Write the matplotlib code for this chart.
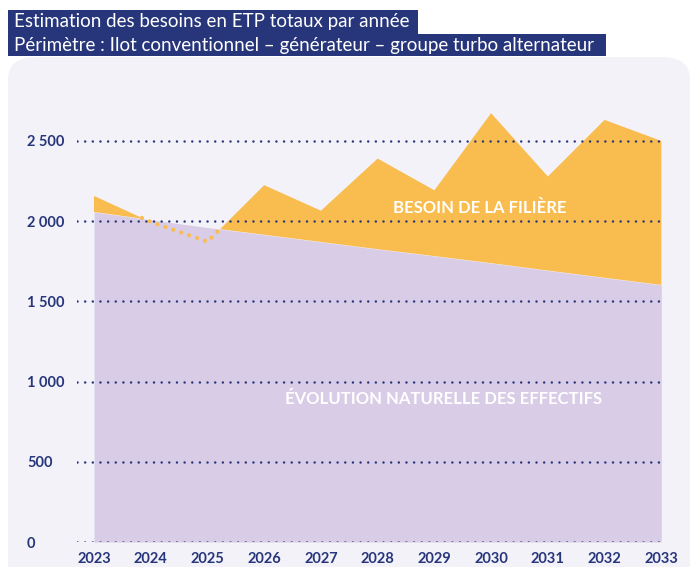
import numpy as np
import matplotlib.pyplot as plt
from matplotlib.patches import FancyBboxPatch, Rectangle

plt.switch_backend("Agg")

# Data
years = [2023, 2024, 2025, 2026, 2027, 2028, 2029, 2030, 2031, 2032, 2033]
besoin = [2157, 1995, 1872, 2224, 2065, 2390, 2192, 2673, 2278, 2631, 2500]
naturelle = [2057, 2008, 1960, 1915, 1870, 1825, 1782, 1738, 1692, 1647, 1602]
y_ticks = [0, 500, 1000, 1500, 2000, 2500]
y_labels = ["0", "500", "1 000", "1 500", "2 000", "2 500"]
title_1 = "Estimation des besoins en ETP totaux par année"
title_2 = "Périmètre : Ilot conventionnel – générateur – groupe turbo alternateur"

NAVY = "#27357b"
ORANGE = "#f9bc4e"
PURPLE = "#d9cce6"
PANEL = "#f3f2f8"
FONT = "Lato"

W, H = 691, 567
fig = plt.figure(figsize=(W / 100, H / 100), dpi=100)

# background panel with rounded corners
panel = FancyBboxPatch((8 / W, -0.05), 682 / W, (H - 57) / H + 0.05,
                       boxstyle="round,pad=0,rounding_size=0.04",
                       transform=fig.transFigure, facecolor=PANEL,
                       edgecolor="none", zorder=-10)
fig.patches.append(panel)

# title boxes
fig.patches.append(Rectangle((8 / W, 1 - 34 / H), 410 / W, 24 / H,
                             transform=fig.transFigure, facecolor=NAVY,
                             edgecolor="none", zorder=-5))
fig.patches.append(Rectangle((8 / W, 1 - 56 / H), 598 / W, 22 / H,
                             transform=fig.transFigure, facecolor=NAVY,
                             edgecolor="none", zorder=-5))
fig.text(14 / W, 1 - 22 / H, title_1, color="white", fontsize=13.5,
         family=FONT, va="center", ha="left", zorder=2)
fig.text(14 / W, 1 - 45 / H, title_2, color="white", fontsize=13.5,
         family=FONT, va="center", ha="left", zorder=2)

ax = fig.add_axes([77 / W, (H - 542) / H, 586 / W, 442 / H])
ax.set_facecolor("none")
ax.set_xlim(2022.7, 2033.03)
ax.set_ylim(0, 2755)

x = np.array(years, dtype=float)
b = np.array(besoin, dtype=float)
n = np.array(naturelle, dtype=float)

ax.fill_between(x, 0, n, color=PURPLE, linewidth=0, zorder=1)
ax.fill_between(x, n, b, where=b >= n, interpolate=True, color=ORANGE,
                linewidth=0, zorder=1)

# dotted line where the need is below the natural evolution
xf = np.linspace(x[0], x[-1], 2001)
bf = np.interp(xf, x, b)
nf = np.interp(xf, x, n)
ax.plot(xf, np.ma.masked_where(bf >= nf + 5, bf), color=ORANGE, lw=3.0,
        linestyle=(0, (0.01, 2.0)), dash_capstyle="round", zorder=2)

for v in y_ticks:
    ax.axhline(v, color=NAVY, lw=1.8, linestyle=(0, (0.01, 3.05)),
               dash_capstyle="round", zorder=3)

ax.text(2029.8, 2080, "BESOIN DE LA FILIÈRE", color="white", fontsize=12,
        fontweight="bold", family=FONT, ha="center", va="center", zorder=4)
ax.text(2029.17, 891, "ÉVOLUTION NATURELLE DES EFFECTIFS", color="white",
        fontsize=12, fontweight="bold", family=FONT, ha="center",
        va="center", zorder=4)

ax.set_xticks(years)
ax.set_xticklabels([str(y) for y in years])
ax.set_yticks(y_ticks)
ax.set_yticklabels(y_labels)
ax.tick_params(length=0, colors=NAVY, labelsize=10.5)
ax.tick_params(axis="x", pad=7)
ax.tick_params(axis="y", pad=36)
for lab in ax.get_xticklabels() + ax.get_yticklabels():
    lab.set_fontweight("bold")
    lab.set_family(FONT)
for lab in ax.get_yticklabels():
    lab.set_horizontalalignment("left")
for s in ax.spines.values():
    s.set_visible(False)

fig.savefig("out.png", dpi=100)
